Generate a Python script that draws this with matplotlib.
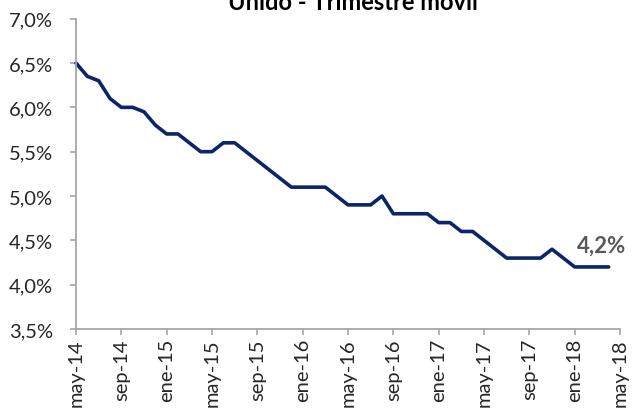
import matplotlib

matplotlib.use("Agg")
import matplotlib.pyplot as plt
import numpy as np

# 3-month rolling unemployment rate, may-14 .. apr-18 (one value per month)
months = [
    "may-14", "jun-14", "jul-14", "ago-14", "sep-14", "oct-14", "nov-14", "dic-14",
    "ene-15", "feb-15", "mar-15", "abr-15", "may-15", "jun-15", "jul-15", "ago-15",
    "sep-15", "oct-15", "nov-15", "dic-15", "ene-16", "feb-16", "mar-16", "abr-16",
    "may-16", "jun-16", "jul-16", "ago-16", "sep-16", "oct-16", "nov-16", "dic-16",
    "ene-17", "feb-17", "mar-17", "abr-17", "may-17", "jun-17", "jul-17", "ago-17",
    "sep-17", "oct-17", "nov-17", "dic-17", "ene-18", "feb-18", "mar-18", "abr-18",
]
rate = [
    6.5, 6.35, 6.3, 6.1, 6.0, 6.0, 5.95, 5.8,
    5.7, 5.7, 5.6, 5.5, 5.5, 5.6, 5.6, 5.5,
    5.4, 5.3, 5.2, 5.1, 5.1, 5.1, 5.1, 5.0,
    4.9, 4.9, 4.9, 5.0, 4.8, 4.8, 4.8, 4.8,
    4.7, 4.7, 4.6, 4.6, 4.5, 4.4, 4.3, 4.3,
    4.3, 4.3, 4.4, 4.3, 4.2, 4.2, 4.2, 4.2,
]
tick_labels = ["may-14", "sep-14", "ene-15", "may-15", "sep-15", "ene-16", "may-16",
               "sep-16", "ene-17", "may-17", "sep-17", "ene-18", "may-18"]
y_ticks = [3.5, 4.0, 4.5, 5.0, 5.5, 6.0, 6.5, 7.0]
last_label = "4,2%"

plt.rcParams["font.family"] = ["Lato", "DejaVu Sans"]

fig = plt.figure(figsize=(6.34, 4.14), dpi=100)
ax = fig.add_axes([76 / 634, 1 - 330 / 414, (620 - 76) / 634, (330 - 19.7) / 414])

x = np.arange(len(rate))
ax.plot(x, rate, color="#0b2566", lw=2.6, solid_joinstyle="round",
        solid_capstyle="round", clip_on=False)

ax.set_xlim(0, 48)
ax.set_ylim(3.5, 7.0)
ax.set_xticks(np.arange(0, 49, 4))
ax.set_xticklabels(tick_labels, rotation=90, fontsize=14.5)
ax.set_yticks(y_ticks)
ax.set_yticklabels([f"{v:.1f}%".replace(".", ",") for v in y_ticks], fontsize=14.5)

for side in ("top", "right"):
    ax.spines[side].set_visible(False)
for side in ("left", "bottom"):
    ax.spines[side].set_color("#a6a6a6")
    ax.spines[side].set_linewidth(1.3)
ax.tick_params(axis="both", colors="#a6a6a6", length=4.5, width=1.2, labelcolor="#262626")
ax.tick_params(axis="y", pad=12)
ax.tick_params(axis="x", pad=2)

ax.annotate(last_label, (x[-1], rate[-1]), xytext=(-5, 11), textcoords="offset points",
            ha="center", va="baseline", fontsize=16, fontweight="bold", color="#595959")

fig.text(0.556, 1 - 10 / 414, "Unido - Trimestre móvil", ha="center", va="baseline",
         fontsize=17, fontweight="bold", color="#000000")

fig.savefig("out.png", dpi=100)
